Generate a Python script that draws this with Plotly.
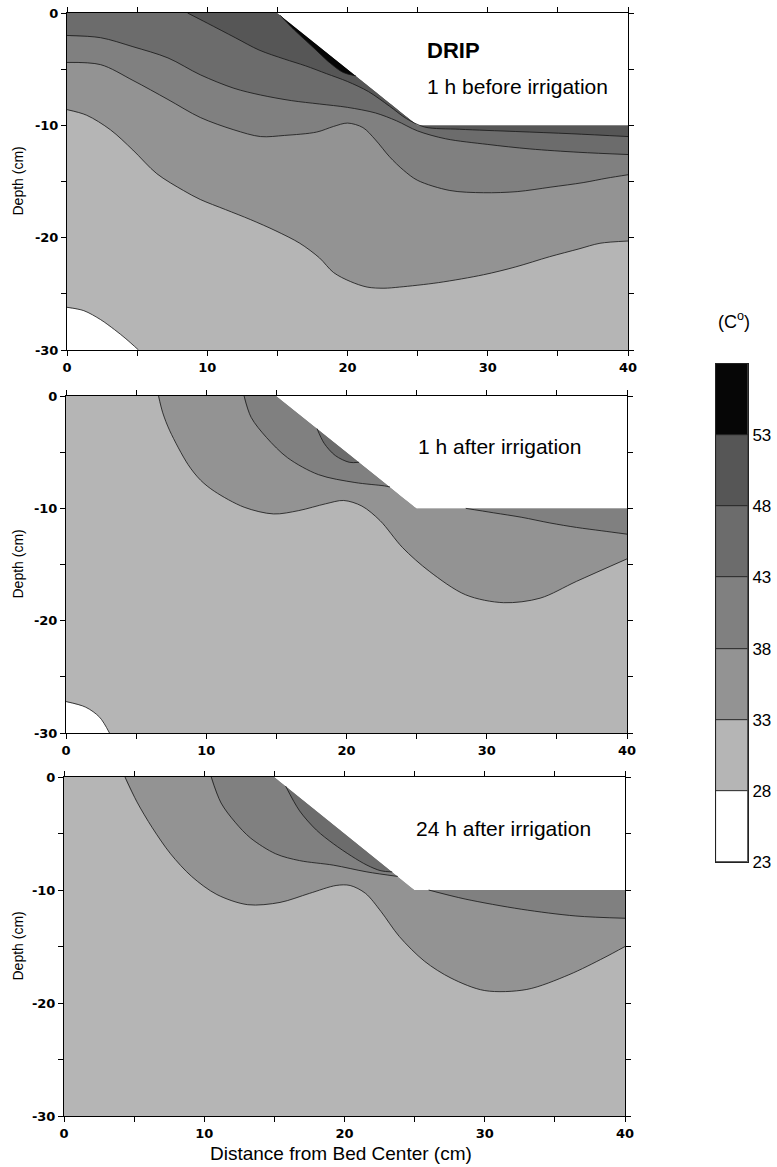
import numpy as np
import plotly.graph_objects as go

# ---------------- data ----------------
surface_x = [0, 15, 25, 40]
surface_y = [0, 0, -10, -10]
depth_bottom = -30

x_tick_vals = [0, 10, 20, 30, 40]
x_tick_text = ["0", "10", "20", "30", "40"]
x_minor_vals = [5, 15, 25, 35]
y_tick_vals = [0, -10, -20, -30]
y_tick_text = ["0", "-10", "-20", "-30"]
y_minor_vals = [-5, -15, -25]

levels = [23, 28, 33, 38, 43, 48, 53, 58]
band_colors = ["#ffffff", "#b5b5b5", "#939393", "#808080", "#6c6c6c", "#565656", "#060606"]

panel_titles = ["1 h before irrigation", "1 h after irrigation", "24 h after irrigation"]

p1_t28_x = [0, 1.2, 2.4, 3.4, 4.2, 5.1]
p1_t28_y = [-26.2, -26.5, -27.3, -28.2, -29.0, -30]
p1_t33_x = [0, 1.4, 3.1, 4.7, 6.4, 8.3, 9.5, 11.3, 13.1, 14.9, 16.6, 18.0, 19.0, 20.2, 21.4, 22.6, 23.7, 26.5, 29.7, 32.0, 34.4, 36.5, 38.0, 40]
p1_t33_y = [-8.6, -9.1, -10.4, -12.2, -14.3, -15.8, -16.6, -17.5, -18.4, -19.4, -20.5, -21.8, -23.1, -23.9, -24.4, -24.5, -24.4, -24.0, -23.3, -22.6, -21.7, -21.0, -20.5, -20.3]
p1_t38_x = [0, 2.4, 4.7, 7.2, 9.5, 11.9, 13.8, 15.5, 17.8, 19.0, 20.0, 21.1, 22.0, 23.0, 24.0, 25.0, 27.3, 29.7, 32.1, 34.5, 36.8, 38.5, 40]
p1_t38_y = [-4.4, -4.6, -6.0, -7.7, -9.3, -10.4, -11.0, -10.9, -10.6, -10.1, -9.8, -10.2, -11.3, -12.8, -14.0, -14.9, -15.8, -16.0, -15.9, -15.5, -15.1, -14.7, -14.4]
p1_t43_x = [0, 2.4, 4.7, 7.2, 9.5, 11.9, 13.8, 16.0, 18.0, 20.0, 22.0, 23.5, 25.0, 27.0, 30.0, 33.0, 36.5, 40]
p1_t43_y = [-2.0, -2.2, -3.0, -4.0, -5.5, -6.7, -7.3, -7.8, -8.1, -8.4, -8.9, -9.6, -10.5, -11.2, -11.7, -12.1, -12.4, -12.6]
p1_t48_x = [8.6, 10.0, 12.0, 13.7, 15.5, 17.0, 18.5, 20.0, 21.5, 23.0, 24.2, 25.5, 28.0, 32.0, 36.0, 40]
p1_t48_y = [0, -0.9, -2.2, -3.3, -4.1, -4.7, -5.4, -6.1, -7.0, -8.3, -9.4, -10.15, -10.35, -10.55, -10.75, -11.0]
p1_t53_x = [15.2, 16.2, 17.5, 18.8, 19.7, 20.6]
p1_t53_y = [-0.2, -1.5, -3.0, -4.5, -5.3, -5.6]

p2_t28_x = [0, 1.4, 2.4, 3.1]
p2_t28_y = [-27.2, -27.7, -28.6, -30]
p2_t33_x = [6.6, 6.9, 7.4, 8.7, 9.6, 10.6, 12.7, 14.8, 16.6, 18.5, 19.8, 21.1, 22.4, 24.0, 25.9, 28.5, 31.2, 33.8, 36.4, 40]
p2_t33_y = [0, -1.5, -3.1, -6.1, -7.5, -8.5, -9.9, -10.5, -10.2, -9.6, -9.3, -9.8, -11.1, -13.5, -15.6, -17.7, -18.4, -18.0, -16.5, -14.5]
p2_t38_x = [12.7, 13.2, 14.3, 15.8, 18.0, 20.6, 22.7, 23.1]
p2_t38_y = [0, -1.9, -3.7, -5.5, -7.0, -7.7, -8.0, -8.1]
p2_t38b_x = [28.5, 30.5, 32.5, 34.5, 36.4, 38.2, 40]
p2_t38b_y = [-10, -10.4, -10.8, -11.3, -11.7, -12.0, -12.3]
p2_t43_x = [17.9, 18.4, 19.2, 20.2, 20.9]
p2_t43_y = [-2.9, -4.2, -5.3, -5.9, -5.9]

p3_t33_x = [4.35, 5.2, 6.3, 7.6, 9.1, 10.9, 13.1, 15.4, 17.5, 19.4, 20.4, 21.5, 22.6, 23.9, 25.7, 27.6, 30.0, 33.0, 36.0, 38.5, 40]
p3_t33_y = [0, -2.2, -4.5, -6.8, -8.8, -10.4, -11.3, -11.1, -10.3, -9.6, -9.6, -10.3, -11.9, -14.1, -16.3, -17.8, -18.9, -18.8, -17.5, -16.0, -15.0]
p3_t38_x = [10.5, 11.2, 12.2, 13.3, 15.1, 16.8, 19.2, 21.6, 23.8]
p3_t38_y = [0, -2.3, -4.0, -5.4, -6.8, -7.4, -7.8, -8.4, -8.8]
p3_t38b_x = [26.0, 28.6, 32.6, 36.5, 40]
p3_t38b_y = [-10, -10.8, -11.7, -12.3, -12.5]
p3_t43_x = [15.8, 16.8, 18.0, 19.2, 20.5, 21.6, 22.6, 23.4]
p3_t43_y = [-0.8, -3.0, -4.7, -5.9, -7.0, -7.8, -8.3, -8.4]

panels = [
    dict(base=23, lines=[(28, p1_t28_x, p1_t28_y), (33, p1_t33_x, p1_t33_y), (38, p1_t38_x, p1_t38_y),
                         (43, p1_t43_x, p1_t43_y), (48, p1_t48_x, p1_t48_y), (53, p1_t53_x, p1_t53_y)]),
    dict(base=23, lines=[(28, p2_t28_x, p2_t28_y), (33, p2_t33_x, p2_t33_y), (38, p2_t38_x, p2_t38_y),
                         (38, p2_t38b_x, p2_t38b_y), (43, p2_t43_x, p2_t43_y)]),
    dict(base=28, lines=[(33, p3_t33_x, p3_t33_y), (38, p3_t38_x, p3_t38_y),
                         (38, p3_t38b_x, p3_t38b_y), (43, p3_t43_x, p3_t43_y)]),
]

# ---------------- geometry helpers ----------------
BOUND = [(sx, sy) for sx, sy in zip(surface_x, surface_y)] + [(surface_x[-1], depth_bottom), (surface_x[0], depth_bottom)]


def _segments():
    segs, cum = [], 0.0
    for i in range(len(BOUND)):
        a = np.array(BOUND[i], float)
        b = np.array(BOUND[(i + 1) % len(BOUND)], float)
        L = float(np.hypot(*(b - a)))
        segs.append((a, b, L, cum))
        cum += L
    return segs, cum


SEGS, PERIM = _segments()


def boundary_param(pt):
    p = np.array(pt, float)
    best = None
    for a, b, L, cum in SEGS:
        d = b - a
        t = float(np.clip(np.dot(p - a, d) / L ** 2, 0, 1))
        proj = a + t * d
        dist = float(np.hypot(*(p - proj)))
        if best is None or dist < best[0]:
            best = (dist, cum + t * L, proj)
    return best[1], best[2]


def boundary_point(s):
    s = s % PERIM
    for a, b, L, cum in SEGS:
        if cum <= s <= cum + L + 1e-9:
            t = (s - cum) / L
            return a + t * (b - a)
    return np.array(BOUND[0], float)


EPS = 0.12


def hot_region(xs, ys):
    s0, p0 = boundary_param((xs[0], ys[0]))
    s1, p1 = boundary_param((xs[-1], ys[-1]))
    span = (s1 - s0) % PERIM
    ds = [EPS]
    for a, b, L, cum in SEGS:
        d = (cum - s0) % PERIM
        for off in (-EPS, 0.0, EPS):
            if 0 < d + off < span:
                ds.append(d + off)
    ds.append(span - EPS)
    ds = sorted(set(d for d in ds if 0 < d < span))
    walk = [boundary_point(s0 + d) for d in ds]
    cx = list(xs)
    cy = list(ys)
    cx[0], cy[0] = float(p0[0]), float(p0[1])
    cx[-1], cy[-1] = float(p1[0]), float(p1[1])
    px = cx[::-1] + [float(v[0]) for v in walk]
    py = cy[::-1] + [float(v[1]) for v in walk]
    return px, py


def band_color(level):
    return band_colors[levels.index(level)]


# ---------------- figure ----------------
W, H = 777, 1167


def px_x(p):
    return p / W


def px_y(p):
    return 1 - p / H


panel_px = [
    (67, 628, 13, 350),
    (66, 627, 396, 733),
    (64, 625, 777, 1116),
]

fig = go.Figure()
axis_names = [("x", "y"), ("x2", "y2"), ("x3", "y3")]

air_x = [surface_x[1], surface_x[-1], surface_x[-1], surface_x[2], surface_x[1]]
air_y = [surface_y[1], surface_y[0], surface_y[-1], surface_y[2], surface_y[1]]

for pi, panel in enumerate(panels):
    xa, ya = axis_names[pi]
    bx = [v[0] for v in BOUND] + [BOUND[0][0]]
    by = [v[1] for v in BOUND] + [BOUND[0][1]]
    fig.add_trace(go.Scatter(x=bx, y=by, fill="toself", fillcolor=band_color(panel["base"]),
                             mode="lines", line=dict(width=0), hoverinfo="skip",
                             showlegend=False, xaxis=xa, yaxis=ya))
    for lev, lx, ly in sorted(panel["lines"], key=lambda t: t[0]):
        rx, ry = hot_region(lx, ly)
        fig.add_trace(go.Scatter(x=rx, y=ry, fill="toself", fillcolor=band_color(lev),
                                 mode="lines", line=dict(width=0, shape="spline", smoothing=0.9),
                                 hoverinfo="skip", showlegend=False, xaxis=xa, yaxis=ya))
    fig.add_trace(go.Scatter(x=air_x, y=air_y, fill="toself", fillcolor="white", mode="lines",
                             line=dict(width=0), hoverinfo="skip", showlegend=False, xaxis=xa, yaxis=ya))
    for lev, lx, ly in panel["lines"]:
        fig.add_trace(go.Scatter(x=lx, y=ly, mode="lines",
                                 line=dict(color="#151515", width=0.8, shape="spline", smoothing=0.9),
                                 hoverinfo="skip", showlegend=False, xaxis=xa, yaxis=ya))

fig.add_trace(go.Bar(x=[0] * (len(levels) - 1), y=[levels[i + 1] - levels[i] for i in range(len(levels) - 1)],
                     base=levels[:-1], width=1, marker=dict(color=band_colors, line=dict(color="#222222", width=0.8)),
                     hoverinfo="skip", showlegend=False, xaxis="x4", yaxis="y4"))

tick_font = dict(family="DejaVu Sans", size=13, color="black", weight="bold")
common = dict(showgrid=False, zeroline=False, showline=True, linecolor="black", linewidth=1,
              mirror="ticks", ticks="outside", ticklen=5, tickwidth=1, tickcolor="black",
              tickfont=tick_font, automargin=False)

layout = dict(width=W, height=H, margin=dict(l=0, r=0, t=0, b=0, pad=0, autoexpand=False), autosize=False,
              paper_bgcolor="white", plot_bgcolor="white", showlegend=False, bargap=0,
              barmode="overlay")

for pi, (l, r, t, b) in enumerate(panel_px):
    suffix = "" if pi == 0 else str(pi + 1)
    layout["xaxis" + suffix] = dict(domain=[px_x(l), px_x(r)], anchor="y" + suffix, range=[0, 40],
                                    tickmode="array", tickvals=x_tick_vals, ticktext=x_tick_text,
                                    minor=dict(tickmode="array", tickvals=x_minor_vals, ticks="outside",
                                               ticklen=5, tickwidth=1, tickcolor="black", showgrid=False),
                                    **common)
    layout["yaxis" + suffix] = dict(domain=[px_y(b), px_y(t)], anchor="x" + suffix, range=[depth_bottom, 0],
                                    tickmode="array", tickvals=y_tick_vals, ticktext=y_tick_text,
                                    minor=dict(tickmode="array", tickvals=y_minor_vals, ticks="outside",
                                               ticklen=5, tickwidth=1, tickcolor="black", showgrid=False),
                                    **common)

layout["xaxis4"] = dict(domain=[px_x(716), px_x(748)], anchor="y4", range=[-0.5, 0.5], showgrid=False,
                        zeroline=False, showticklabels=False, ticks="", showline=True, mirror=True,
                        linecolor="#222222", linewidth=1, automargin=False)
layout["yaxis4"] = dict(domain=[px_y(862), px_y(364)], anchor="x4", range=[levels[0], levels[-1]],
                        side="right", tickmode="array", tickvals=levels[:-1], ticks="", showgrid=False,
                        zeroline=False, showline=True, mirror=True, linecolor="#222222", linewidth=1,
                        automargin=False,
                        tickfont=dict(family="Arial, Liberation Sans", size=17, color="black"))

fig.update_layout(**layout)

ann_font = "Arial, Liberation Sans"
annotations = []
annotations.append(dict(x=px_x(425), y=px_y(51), xref="paper", yref="paper", text="<b>DRIP</b>",
                        showarrow=False, xanchor="left", yanchor="middle",
                        font=dict(family=ann_font, size=22, color="black")))
title_px = [(425, 87), (416, 446), (414, 829)]
for pi, (tx, ty) in enumerate(title_px):
    annotations.append(dict(x=px_x(tx), y=px_y(ty), xref="paper", yref="paper", text=panel_titles[pi],
                            showarrow=False, xanchor="left", yanchor="middle",
                            font=dict(family=ann_font, size=21, color="black")))
for pi, (l, r, t, b) in enumerate(panel_px):
    annotations.append(dict(x=px_x(17), y=px_y((t + b) / 2), xref="paper", yref="paper", text="Depth (cm)",
                            textangle=-90, showarrow=False, xanchor="center", yanchor="middle",
                            font=dict(family=ann_font, size=14, color="black")))
annotations.append(dict(x=px_x(341), y=px_y(1153), xref="paper", yref="paper",
                        text="Distance from Bed Center (cm)", showarrow=False, xanchor="center",
                        yanchor="middle", font=dict(family=ann_font, size=19, color="black")))
annotations.append(dict(x=px_x(734), y=px_y(320), xref="paper", yref="paper", text="(C<sup>o</sup>)",
                        showarrow=False, xanchor="center", yanchor="middle",
                        font=dict(family=ann_font, size=18, color="black")))
fig.update_layout(annotations=annotations)

page_js = """
document.documentElement.style.margin='0';document.documentElement.style.padding='0';
document.body.style.margin='0';document.body.style.padding='0';
document.documentElement.style.overflow='hidden';document.body.style.overflow='hidden';
"""

fig.write_html("out.html", config={"displayModeBar": False}, post_script=page_js)
